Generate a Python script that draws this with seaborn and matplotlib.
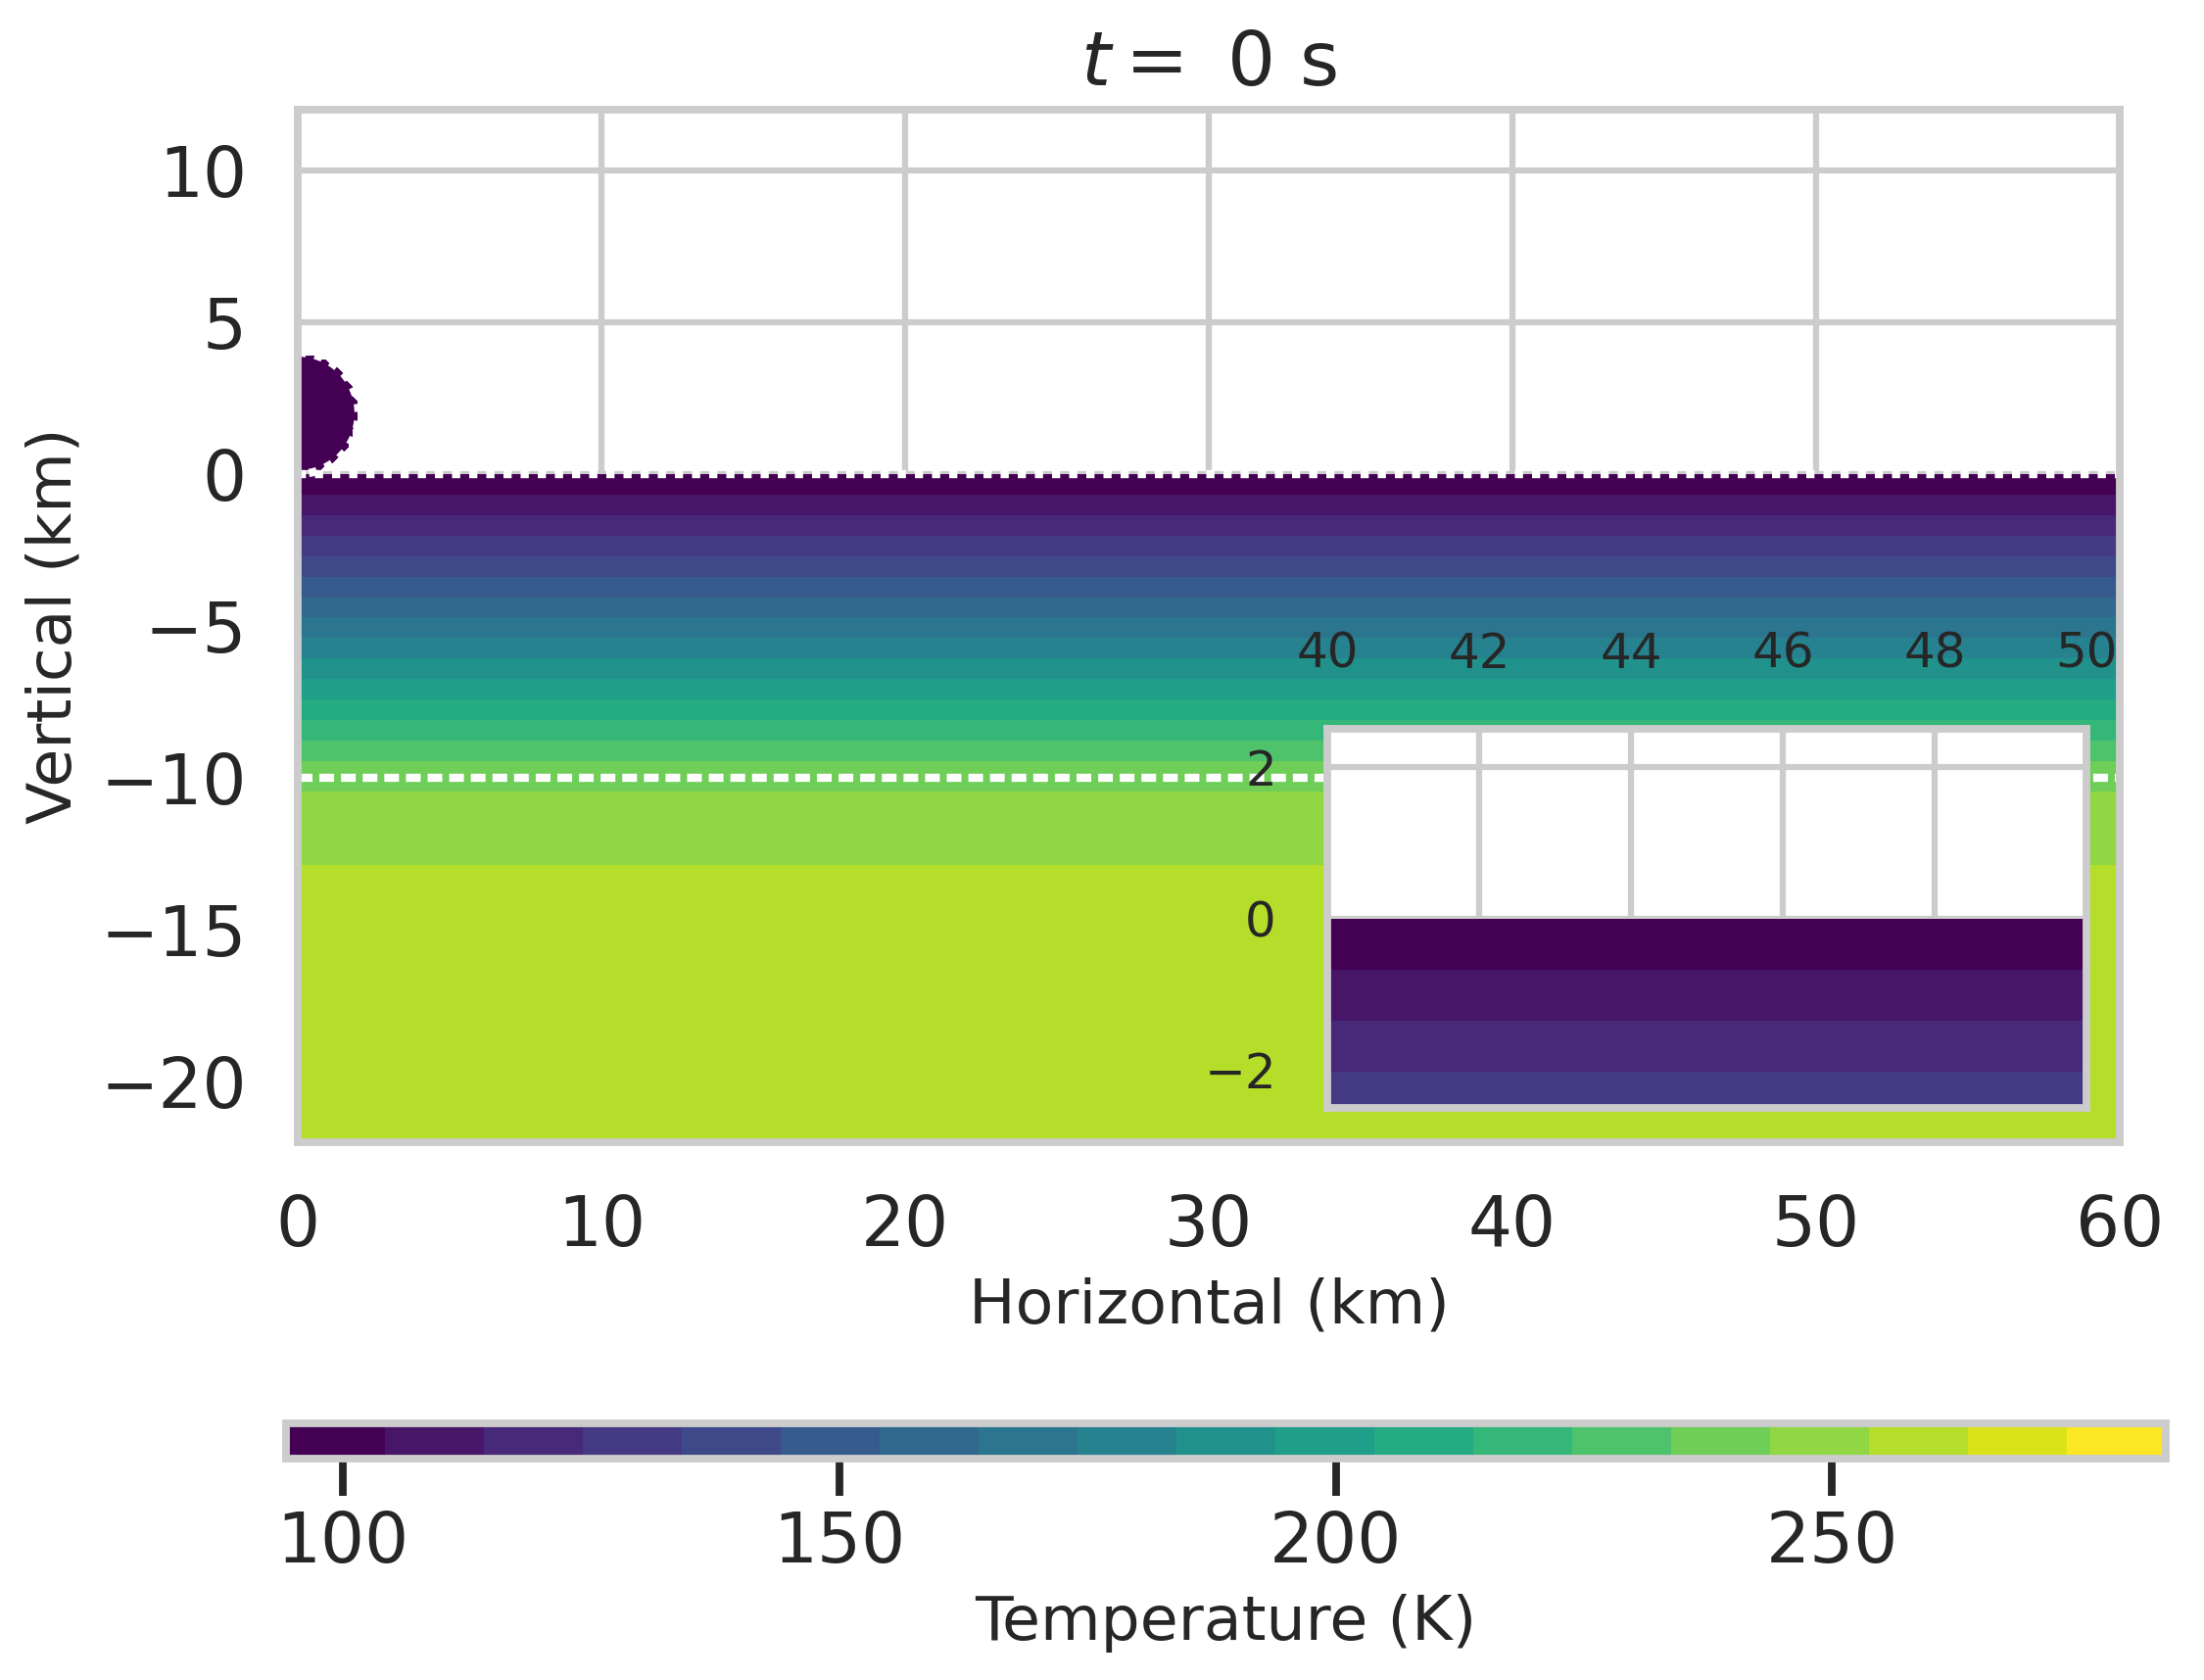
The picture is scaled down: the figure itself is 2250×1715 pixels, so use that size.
import numpy as np
import matplotlib
matplotlib.use("Agg")
import matplotlib.pyplot as plt
import seaborn as sns

# temperature profile (depth in km, T in K)
profile_depth = [0.0, -10.0, -12.9, -22.0]
profile_temp = [94.3, 241.9, 253.8, 260.0]
x_extent = [0.0, 60.0]

# cold blob sitting on the surface
blob_center = (0.0, 2.0)
blob_radius = 2.0
blob_temp = 97.0

# interfaces marked with white lines
surface_depth = 0.0
ocean_depth = -10.0

temp_levels = np.linspace(94.3, 283.6, 20)
cbar_ticks = [100, 150, 200, 250]
main_xticks = [0, 10, 20, 30, 40, 50, 60]
main_yticks = [-20, -15, -10, -5, 0, 5, 10]
inset_xticks = [40, 42, 44, 46, 48, 50]
inset_yticks = [-2, 0, 2]
time_s = 0

sns.set_theme(context="talk", style="whitegrid")
cmap = plt.get_cmap("viridis", len(temp_levels) - 1)

W, H = 2250, 1715
fig = plt.figure(figsize=(W / 300, H / 300), dpi=300)
ax = fig.add_axes([304 / W, 1 - 1166 / H, 1860 / W, 1054 / H])
cax = fig.add_axes([292 / W, 1 - 1489 / H, 1919 / W, 36 / H])
axins = fig.add_axes([1355 / W, 1 - 1131 / H, 775 / W, 387 / H])

# layered field below the surface
xx = np.array(x_extent)
zz = np.array(profile_depth)
T = np.tile(np.array(profile_temp)[:, None], (1, len(xx)))
cf = ax.contourf(xx, zz, T, levels=temp_levels, cmap=cmap)

# the blob (NaN outside gives the stair-step edge)
step = 0.15
bx = np.arange(0, blob_center[0] + blob_radius + step, step)
by = np.arange(0, blob_center[1] + blob_radius + step, step)
BX, BY = np.meshgrid(bx, by)
dist = np.hypot(BX - blob_center[0], BY - blob_center[1])
blob = np.where(dist <= blob_radius, blob_temp, np.nan)
ax.contourf(BX, BY, blob, levels=temp_levels, cmap=cmap)
ax.contour(BX, BY, dist, levels=[blob_radius], colors="white",
           linestyles=[(0, (1, 1.1))], linewidths=2)

ax.axhline(surface_depth, color="white", ls=(0, (1, 1.1)), lw=2)
ax.axhline(ocean_depth, color="white", ls=(0, (1.8, 0.85)), lw=2)

ax.set_xlim(0, 60)
ax.set_ylim(-22, 12)
ax.set_xticks(main_xticks)
ax.set_yticks(main_yticks)
ax.tick_params(labelsize=17)
ax.set_xlabel("Horizontal (km)", fontsize=15.2)
ax.set_ylabel("Vertical (km)", fontsize=15.2)
ax.set_title(r"$t=$ %d s" % time_s, fontsize=18.5)

# zoomed inset near the surface
axins.contourf(xx, zz, T, levels=temp_levels, cmap=cmap)
axins.set_xlim(40, 50)
axins.set_ylim(-2.5, 2.5)
axins.set_xticks(inset_xticks)
axins.set_yticks(inset_yticks)
axins.tick_params(labelsize=12, labeltop=True, labelbottom=False,
                  top=False, bottom=False)
axins.set_facecolor("white")

cb = fig.colorbar(cf, cax=cax, orientation="horizontal", ticks=cbar_ticks)
cb.ax.tick_params(labelsize=17)
cb.set_label("Temperature (K)", fontsize=15.2)

fig.savefig("out.png", dpi=300)
